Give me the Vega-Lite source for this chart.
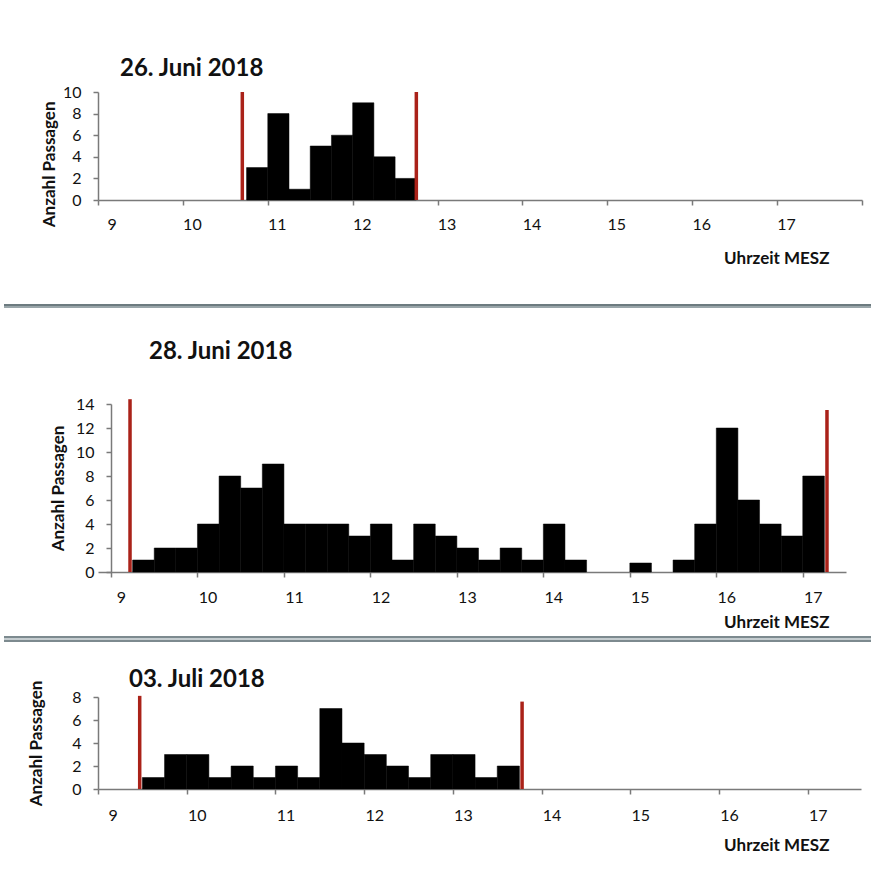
{
  "$schema": "https://vega.github.io/schema/vega-lite/v6.json",
  "padding": {"left": 0, "top": 56, "right": 0, "bottom": 0},
  "background": "white",
  "config": {
    "view": {"stroke": null},
    "font": "Lato",
    "axis": {
      "grid": false,
      "domainColor": "#7a7a7a",
      "domainWidth": 1.5,
      "tickColor": "#7a7a7a",
      "tickWidth": 1.5,
      "tickSize": 5,
      "labelFont": "Lato",
      "labelFontSize": 16,
      "labelColor": "#111111",
      "titleFont": "Lato",
      "titleFontWeight": "bold",
      "titleFontSize": 17,
      "titleColor": "#111111",
      "titleLimit": 400
    },
    "title": {"font": "Lato", "fontSize": 24, "fontWeight": "bold", "color": "#111111", "anchor": "start", "frame": "group"}
  },
  "datasets": {
    "bars0626": [
      {"start": 10.75, "end": 11.0, "n": 3},
      {"start": 11.0, "end": 11.25, "n": 8},
      {"start": 11.25, "end": 11.5, "n": 1},
      {"start": 11.5, "end": 11.75, "n": 5},
      {"start": 11.75, "end": 12.0, "n": 6},
      {"start": 12.0, "end": 12.25, "n": 9},
      {"start": 12.25, "end": 12.5, "n": 4},
      {"start": 12.5, "end": 12.75, "n": 2}
    ],
    "limits0626": [
      {"start": 10.7, "n": 10},
      {"start": 12.75, "n": 10}
    ],
    "bars0628": [
      {"start": 9.25, "end": 9.5, "n": 1},
      {"start": 9.5, "end": 9.75, "n": 2},
      {"start": 9.75, "end": 10.0, "n": 2},
      {"start": 10.0, "end": 10.25, "n": 4},
      {"start": 10.25, "end": 10.5, "n": 8},
      {"start": 10.5, "end": 10.75, "n": 7},
      {"start": 10.75, "end": 11.0, "n": 9},
      {"start": 11.0, "end": 11.25, "n": 4},
      {"start": 11.25, "end": 11.5, "n": 4},
      {"start": 11.5, "end": 11.75, "n": 4},
      {"start": 11.75, "end": 12.0, "n": 3},
      {"start": 12.0, "end": 12.25, "n": 4},
      {"start": 12.25, "end": 12.5, "n": 1},
      {"start": 12.5, "end": 12.75, "n": 4},
      {"start": 12.75, "end": 13.0, "n": 3},
      {"start": 13.0, "end": 13.25, "n": 2},
      {"start": 13.25, "end": 13.5, "n": 1},
      {"start": 13.5, "end": 13.75, "n": 2},
      {"start": 13.75, "end": 14.0, "n": 1},
      {"start": 14.0, "end": 14.25, "n": 4},
      {"start": 14.25, "end": 14.5, "n": 1},
      {"start": 15.0, "end": 15.25, "n": 0.75},
      {"start": 15.5, "end": 15.75, "n": 1},
      {"start": 15.75, "end": 16.0, "n": 4},
      {"start": 16.0, "end": 16.25, "n": 12},
      {"start": 16.25, "end": 16.5, "n": 6},
      {"start": 16.5, "end": 16.75, "n": 4},
      {"start": 16.75, "end": 17.0, "n": 3},
      {"start": 17.0, "end": 17.25, "n": 8}
    ],
    "limits0628": [
      {"start": 9.22, "n": 14.4},
      {"start": 17.28, "n": 13.5}
    ],
    "bars0703": [
      {"start": 9.5, "end": 9.75, "n": 1},
      {"start": 9.75, "end": 10.0, "n": 3},
      {"start": 10.0, "end": 10.25, "n": 3},
      {"start": 10.25, "end": 10.5, "n": 1},
      {"start": 10.5, "end": 10.75, "n": 2},
      {"start": 10.75, "end": 11.0, "n": 1},
      {"start": 11.0, "end": 11.25, "n": 2},
      {"start": 11.25, "end": 11.5, "n": 1},
      {"start": 11.5, "end": 11.75, "n": 7},
      {"start": 11.75, "end": 12.0, "n": 4},
      {"start": 12.0, "end": 12.25, "n": 3},
      {"start": 12.25, "end": 12.5, "n": 2},
      {"start": 12.5, "end": 12.75, "n": 1},
      {"start": 12.75, "end": 13.0, "n": 3},
      {"start": 13.0, "end": 13.25, "n": 3},
      {"start": 13.25, "end": 13.5, "n": 1},
      {"start": 13.5, "end": 13.75, "n": 2}
    ],
    "limits0703": [
      {"start": 9.47, "n": 8.1},
      {"start": 13.78, "n": 7.6}
    ]
  },
  "vconcat": [
    {
      "width": 764,
      "height": 108,
      "title": {"text": "26. Juni 2018", "dx": 22, "offset": 3.5},
      "encoding": {
        "x": {"field": "start", "type": "quantitative", "scale": {"domain": [9, 18], "nice": false, "zero": false},
              "axis": {"values": [9, 10, 11, 12, 13, 14, 15, 16, 17, 18], "format": "d", "labelExpr": "datum.value == 18 ? '' : datum.label", "labelOffset": 9, "labelPadding": 11, "title": "Uhrzeit MESZ", "titleX": 731, "titleY": 58, "titleAlign": "right", "titleBaseline": "middle", "titleAnchor": "end"}},
        "y": {"field": "n", "type": "quantitative", "scale": {"domain": [0, 10], "nice": false},
              "axis": {"values": [0, 2, 4, 6, 8, 10], "format": "d", "labelPadding": 12, "title": "Anzahl  Passagen", "titleAnchor": "end", "titleX": -49, "titleY": 9, "titleAngle": 270, "titleAlign": "right", "titleBaseline": "middle"}}
      },
      "layer": [
        {
          "data": {"name": "bars0626"},
          "mark": {"type": "rect", "color": "black", "stroke": "black", "strokeWidth": 0.5},
          "encoding": {"x2": {"field": "end"}, "y2": {"datum": 0}}
        },
        {
          "data": {"name": "limits0626"},
          "mark": {"type": "rule", "color": "#aa2219", "strokeWidth": 3.5},
          "encoding": {"y2": {"datum": 0}}
        },
        {
          "data": {"name": "bars0626"},
          "transform": [{"filter": "datum.start == 10.75"}],
          "mark": {"type": "rule", "color": "#6d7b80", "strokeWidth": 4},
          "encoding": {"x": {"datum": 7.8927}, "x2": {"datum": 18.224}, "y": {"datum": -9.815}}
        },
        {
          "data": {"name": "bars0626"},
          "transform": [{"filter": "datum.start == 10.75"}],
          "mark": {"type": "rule", "color": "#aab5b9", "strokeWidth": 1.5},
          "encoding": {"x": {"datum": 7.8927}, "x2": {"datum": 18.224}, "y": {"datum": -9.907}}
        }
      ]
    },
    {
      "width": 748,
      "height": 168,
      "title": {"text": ["", "28. Juni 2018"], "lineHeight": 6, "dx": 51, "offset": 31.6},
      "encoding": {
        "x": {"field": "start", "type": "quantitative", "scale": {"domain": [8.8497, 17.5], "nice": false, "zero": false},
              "axis": {"values": [9, 10, 11, 12, 13, 14, 15, 16, 17], "format": "d", "labelOffset": 10, "labelPadding": 12, "title": "Uhrzeit MESZ", "titleX": 731, "titleY": 50, "titleAlign": "right", "titleBaseline": "middle", "titleAnchor": "end"}},
        "y": {"field": "n", "type": "quantitative", "scale": {"domain": [0, 14], "nice": false},
              "axis": {"values": [0, 2, 4, 6, 8, 10, 12, 14], "format": "d", "offset": -13, "labelPadding": 12, "title": "Anzahl  Passagen", "titleX": -53, "titleAngle": 270, "titleAlign": "center", "titleBaseline": "middle"}}
      },
      "layer": [
        {
          "data": {"name": "bars0628"},
          "mark": {"type": "rect", "color": "black", "stroke": "black", "strokeWidth": 0.5},
          "encoding": {"x2": {"field": "end"}, "y2": {"datum": 0}}
        },
        {
          "data": {"name": "limits0628"},
          "mark": {"type": "rule", "color": "#aa2219", "strokeWidth": 3.5},
          "encoding": {"y2": {"datum": 0}}
        },
        {
          "data": {"name": "bars0628"},
          "transform": [{"filter": "datum.start == 9.25"}],
          "mark": {"type": "rule", "color": "#7d8a8f", "strokeWidth": 6},
          "encoding": {"x": {"datum": 7.7626}, "x2": {"datum": 17.905}, "y": {"datum": -5.583}}
        },
        {
          "data": {"name": "bars0628"},
          "transform": [{"filter": "datum.start == 9.25"}],
          "mark": {"type": "rule", "color": "#c5cdd0", "strokeWidth": 2},
          "encoding": {"x": {"datum": 7.7626}, "x2": {"datum": 17.905}, "y": {"datum": -5.583}}
        }
      ]
    },
    {
      "width": 763,
      "height": 92,
      "title": {"text": "03. Juli 2018", "dx": 31, "offset": -11.7},
      "encoding": {
        "x": {"field": "start", "type": "quantitative", "scale": {"domain": [9, 17.6], "nice": false, "zero": false},
              "axis": {"values": [9, 10, 11, 12, 13, 14, 15, 16, 17], "format": "d", "labelOffset": 10, "labelPadding": 13, "title": "Uhrzeit MESZ", "titleX": 731, "titleY": 56, "titleAlign": "right", "titleBaseline": "middle", "titleAnchor": "end"}},
        "y": {"field": "n", "type": "quantitative", "scale": {"domain": [0, 8], "nice": false},
              "axis": {"values": [0, 2, 4, 6, 8], "format": "d", "labelPadding": 12, "title": "Anzahl Passagen", "titleX": -62, "titleAngle": 270, "titleAlign": "center", "titleBaseline": "middle"}}
      },
      "layer": [
        {
          "data": {"name": "bars0703"},
          "mark": {"type": "rect", "color": "black", "stroke": "black", "strokeWidth": 0.5},
          "encoding": {"x2": {"field": "end"}, "y2": {"datum": 0}}
        },
        {
          "data": {"name": "limits0703"},
          "mark": {"type": "rule", "color": "#aa2219", "strokeWidth": 3.5},
          "encoding": {"y2": {"datum": 0}}
        }
      ]
    }
  ],
  "spacing": 25
}
